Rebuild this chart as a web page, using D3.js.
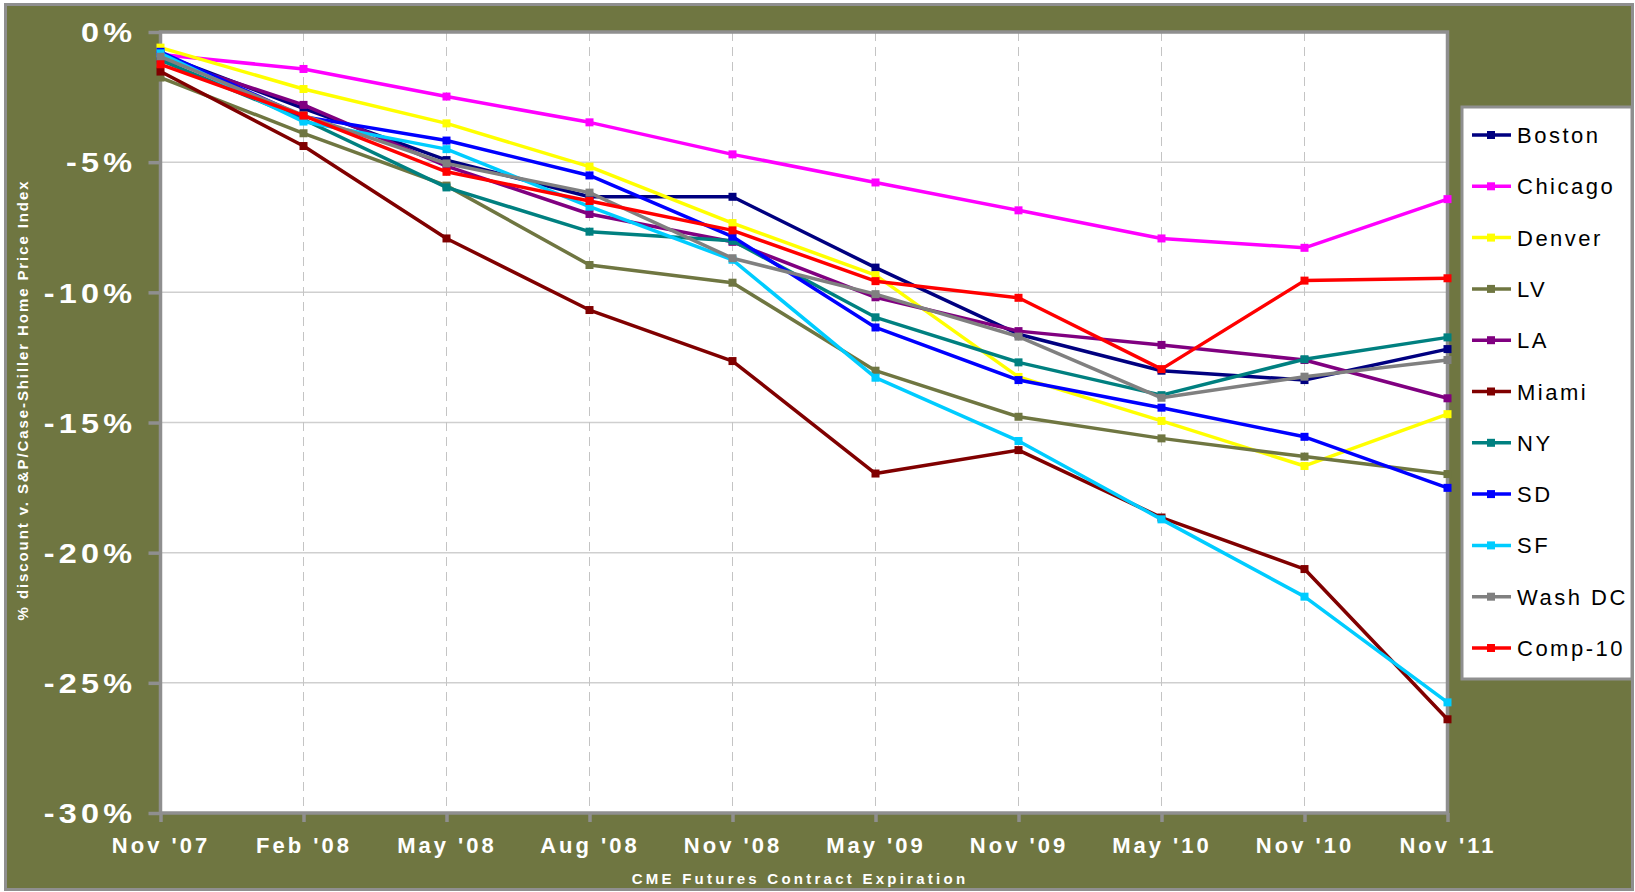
<!DOCTYPE html>
<html>
<head>
<meta charset="utf-8">
<script src="https://cdn.jsdelivr.net/npm/d3@7"></script>
<style>
  html, body { margin: 0; padding: 0; background: #ffffff; }
  svg { display: block; font-family: "Liberation Sans", Arial, sans-serif; }
</style>
</head>
<body>
<svg id="chart" width="1635" height="892"></svg>
<script>
// ---------- DATA ----------
const categories = ["Nov '07", "Feb '08", "May '08", "Aug '08", "Nov '08", "May '09", "Nov '09", "May '10", "Nov '10", "Nov '11"];
const yTickValues = [0, -5, -10, -15, -20, -25, -30];
const yTickLabels = ["0%", "-5%", "-10%", "-15%", "-20%", "-25%", "-30%"];

const boston  = [-0.85, -2.93, -4.92, -6.33, -6.33, -9.05, -11.61, -13.01, -13.37, -12.18];
const chicago = [-0.86, -1.42, -2.48, -3.47, -4.70, -5.78, -6.85, -7.93, -8.29, -6.42];
const denver  = [-0.60, -2.19, -3.51, -5.17, -7.34, -9.34, -13.25, -14.94, -16.67, -14.68];
const lv      = [-1.75, -3.89, -5.90, -8.95, -9.63, -13.01, -14.78, -15.61, -16.31, -16.98];
const la      = [-1.00, -2.80, -5.15, -6.99, -8.06, -10.19, -11.49, -12.02, -12.60, -14.07];
const miami   = [-1.52, -4.38, -7.93, -10.68, -12.64, -16.96, -16.06, -18.65, -20.63, -26.40];
const ny      = [-1.08, -3.36, -5.97, -7.67, -8.02, -10.96, -12.69, -13.95, -12.57, -11.73];
const sd      = [-0.76, -3.25, -4.17, -5.51, -7.86, -11.35, -13.37, -14.43, -15.55, -17.51];
const sf      = [-0.82, -3.44, -4.50, -6.71, -8.75, -13.28, -15.71, -18.72, -21.69, -25.75];
const washdc  = [-0.95, -3.20, -5.05, -6.17, -8.69, -10.07, -11.70, -14.05, -13.24, -12.60];
const comp10  = [-1.24, -3.21, -5.37, -6.49, -7.62, -9.57, -10.21, -12.95, -9.55, -9.46];

const seriesNames  = ["Boston", "Chicago", "Denver", "LV", "LA", "Miami", "NY", "SD", "SF", "Wash DC", "Comp-10"];
const seriesValues = [boston, chicago, denver, lv, la, miami, ny, sd, sf, washdc, comp10];
const seriesColors = ["#000080", "#FF00FF", "#FFFF00", "#6F7641", "#800080", "#800000", "#008080", "#0000FF", "#00CCFF", "#808080", "#FF0000"];

const xTitle = "CME Futures Contract Expiration";
const yTitle = "% discount v. S&P/Case-Shiller Home Price Index";

// ---------- LAYOUT ----------
const W = 1635, H = 892;
const olive = "#6F7641";
const frameGray = "#8f8f8f";
const plot = { left: 160.5, right: 1447.5, top: 32, bottom: 813 };

const svg = d3.select("#chart");

// outer frame
svg.append("rect")
  .attr("x", 5.5).attr("y", 4.5).attr("width", W - 8).attr("height", H - 7)
  .attr("fill", olive).attr("stroke", frameGray).attr("stroke-width", 3);

// scales
const x = d3.scalePoint().domain(categories).range([plot.left, plot.right]);
const y = d3.scaleLinear().domain([-30, 0]).range([plot.bottom, plot.top]);

// plot area
svg.append("rect")
  .attr("x", plot.left).attr("y", plot.top)
  .attr("width", plot.right - plot.left).attr("height", plot.bottom - plot.top)
  .attr("fill", "#ffffff");

// horizontal gridlines
svg.append("g").selectAll("line")
  .data(yTickValues.filter(v => v !== 0 && v !== -30))
  .join("line")
  .attr("x1", plot.left).attr("x2", plot.right)
  .attr("y1", d => y(d)).attr("y2", d => y(d))
  .attr("stroke", "#cfcfcf").attr("stroke-width", 1.5);

// vertical dashed gridlines
svg.append("g").selectAll("line")
  .data(categories.slice(1, -1))
  .join("line")
  .attr("x1", d => x(d)).attr("x2", d => x(d))
  .attr("y1", plot.top).attr("y2", plot.bottom)
  .attr("stroke", "#c4c4c4").attr("stroke-width", 1)
  .attr("stroke-dasharray", "9,6");

// plot border
svg.append("rect")
  .attr("x", plot.left).attr("y", plot.top)
  .attr("width", plot.right - plot.left).attr("height", plot.bottom - plot.top)
  .attr("fill", "none").attr("stroke", frameGray).attr("stroke-width", 3.5);

// y axis
const yStretch = 1.2;
const yAxis = svg.append("g")
  .attr("transform", `translate(${plot.left},0)`)
  .call(d3.axisLeft(y).tickValues(yTickValues).tickSize(12).tickPadding(8.5)
    .tickFormat((d, i) => yTickLabels[i]));
yAxis.select(".domain").remove();
yAxis.selectAll(".tick line").attr("stroke", frameGray).attr("stroke-width", 3.5);
yAxis.selectAll(".tick text")
  .attr("fill", "#ffffff").attr("font-size", 27).attr("font-weight", "bold")
  .attr("letter-spacing", 3.5).attr("dy", "0.36em")
  .attr("x", -20.25)
  .attr("transform", `scale(${yStretch},1)`)
  .attr("font-family", "'Liberation Sans', Arial, sans-serif");

// x axis
const xAxis = svg.append("g")
  .attr("transform", `translate(0,${plot.bottom})`)
  .call(d3.axisBottom(x).tickSize(9).tickPadding(15));
xAxis.select(".domain").remove();
xAxis.selectAll(".tick line").attr("stroke", frameGray).attr("stroke-width", 3.5);
xAxis.selectAll(".tick text")
  .attr("fill", "#ffffff").attr("font-size", 22).attr("font-weight", "bold")
  .attr("letter-spacing", 3)
  .attr("font-family", "'Liberation Sans', Arial, sans-serif");

// axis titles
svg.append("text")
  .attr("x", 800).attr("y", 884)
  .attr("text-anchor", "middle").attr("fill", "#ffffff")
  .attr("font-size", 15).attr("font-weight", "bold").attr("letter-spacing", 3.25)
  .text(xTitle);

svg.append("text")
  .attr("transform", "translate(28,400) rotate(-90)")
  .attr("text-anchor", "middle").attr("fill", "#ffffff")
  .attr("font-size", 15).attr("font-weight", "bold").attr("letter-spacing", 1.9)
  .text(yTitle);

// series
const line = d3.line().x((d, i) => x(categories[i])).y(d => y(d));
const seriesG = svg.append("g");
seriesNames.forEach((name, si) => {
  const g = seriesG.append("g");
  g.append("path")
    .attr("d", line(seriesValues[si]))
    .attr("fill", "none").attr("stroke", seriesColors[si])
    .attr("stroke-width", 3.5).attr("stroke-linejoin", "round");
  g.selectAll("rect")
    .data(seriesValues[si])
    .join("rect")
    .attr("x", (d, i) => x(categories[i]) - 4)
    .attr("y", d => y(d) - 4)
    .attr("width", 8).attr("height", 8)
    .attr("fill", seriesColors[si]);
});

// legend
const legend = svg.append("g");
legend.append("rect")
  .attr("x", 1462).attr("y", 107).attr("width", 170).attr("height", 572)
  .attr("fill", "#ffffff").attr("stroke", frameGray).attr("stroke-width", 3);
const legendY = d3.scalePoint().domain(seriesNames).range([135, 648]);
seriesNames.forEach((name, si) => {
  const cy = legendY(name);
  legend.append("line")
    .attr("x1", 1472).attr("x2", 1511).attr("y1", cy).attr("y2", cy)
    .attr("stroke", seriesColors[si]).attr("stroke-width", 3.5);
  legend.append("rect")
    .attr("x", 1491 - 4).attr("y", cy - 4).attr("width", 8).attr("height", 8)
    .attr("fill", seriesColors[si]);
  legend.append("text")
    .attr("x", 1517).attr("y", cy + 8)
    .attr("fill", "#000000").attr("font-size", 22).attr("letter-spacing", 2.5)
    .text(name);
});
</script>
</body>
</html>
